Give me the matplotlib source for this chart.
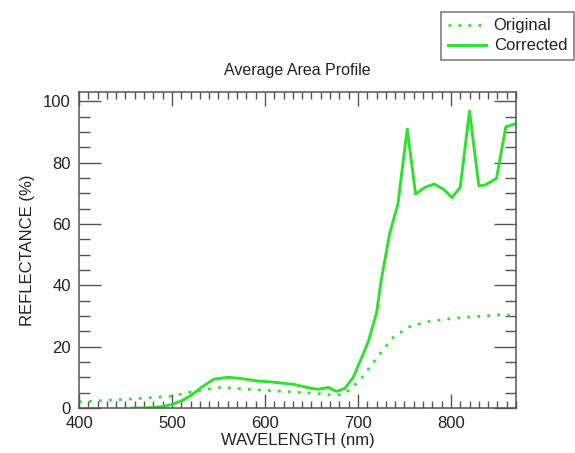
import matplotlib
matplotlib.use("Agg")
import matplotlib.pyplot as plt
from matplotlib.ticker import MultipleLocator

plt.rcParams['font.family'] = ['Liberation Sans', 'DejaVu Sans']

# Corrected reflectance spectrum (nm, %)
corr_wl = [458, 470, 480, 491, 500, 510, 520, 532, 545, 560, 575, 592, 610,
           631, 650, 657, 668, 677, 686, 695, 702, 711, 720, 725, 734, 743,
           753, 762, 772, 782, 792, 801, 810, 820, 830, 837, 849, 859, 871]
corr_val = [0.0, 0.0, 0.2, 0.5, 1.2, 2.3, 4.0, 6.8, 9.4, 10.0, 9.6, 8.8, 8.4,
            7.7, 6.4, 6.1, 6.7, 5.4, 6.4, 10.0, 15.0, 21.5, 31.0, 41.5, 56.7, 66.5,
            90.9, 69.7, 71.9, 73.0, 71.3, 68.6, 71.9, 96.8, 72.4, 72.7, 74.8, 91.6, 92.8]

# Original (uncorrected) reflectance spectrum (nm, %)
orig_wl = [400, 430, 460, 498, 523, 552, 581, 610, 646, 660, 675, 686, 702,
           711, 725, 738, 754, 772, 801, 826, 855, 871]
orig_val = [2.0, 2.5, 3.0, 3.8, 5.4, 6.7, 6.1, 5.6, 4.9, 4.6, 4.1, 4.7, 9.0,
            12.6, 18.2, 23.0, 26.3, 28.0, 29.2, 29.8, 30.4, 30.1]

x_limits = (400, 870)
y_limits = (0, 103)

green = '#2fe02f'
axis_grey = '#555555'

fig = plt.figure(figsize=(5.75, 4.53), dpi=100)
ax = fig.add_axes([0.1374, 0.0993, 0.76, 0.6977])

l1, = ax.plot(orig_wl, orig_val, color=green, lw=2.0, linestyle=(0, (1, 2.6)),
              dash_capstyle='butt', label='Original')
l2, = ax.plot(corr_wl, corr_val, color=green, lw=2.1, label='Corrected')

ax.set_xlim(*x_limits)
ax.set_ylim(*y_limits)
ax.xaxis.set_major_locator(MultipleLocator(100))
ax.xaxis.set_minor_locator(MultipleLocator(10))
ax.yaxis.set_major_locator(MultipleLocator(20))
ax.yaxis.set_minor_locator(MultipleLocator(5))

for s in ax.spines.values():
    s.set_color(axis_grey)
    s.set_linewidth(1.1)

ax.tick_params(axis='both', which='both', direction='in', top=True, right=True,
               color=axis_grey, width=1.0, labelsize=12, labelcolor='#222222')
ax.tick_params(axis='x', which='major', length=10, pad=6)
ax.tick_params(axis='x', which='minor', length=5)
ax.tick_params(axis='y', which='major', length=16, pad=6)
ax.tick_params(axis='y', which='minor', length=8)

ax.set_xlabel('WAVELENGTH (nm)', fontsize=12, color='#222222', labelpad=1)
ax.set_ylabel('REFLECTANCE (%)', fontsize=12, color='#222222', labelpad=6)
ax.set_title('Average Area Profile', fontsize=11.5, color='#222222', pad=12)

leg = fig.legend(handles=[l1, l2], loc='upper right',
                 bbox_to_anchor=(0.998, 0.974), fontsize=12,
                 frameon=True, fancybox=False, handlelength=2.3,
                 handletextpad=0.45, borderpad=0.4, labelspacing=0.3,
                 borderaxespad=0)
leg.get_frame().set_edgecolor(axis_grey)
leg.get_frame().set_linewidth(1.1)
for t in leg.get_texts():
    t.set_color('#222222')

fig.savefig('out.png', dpi=100)
